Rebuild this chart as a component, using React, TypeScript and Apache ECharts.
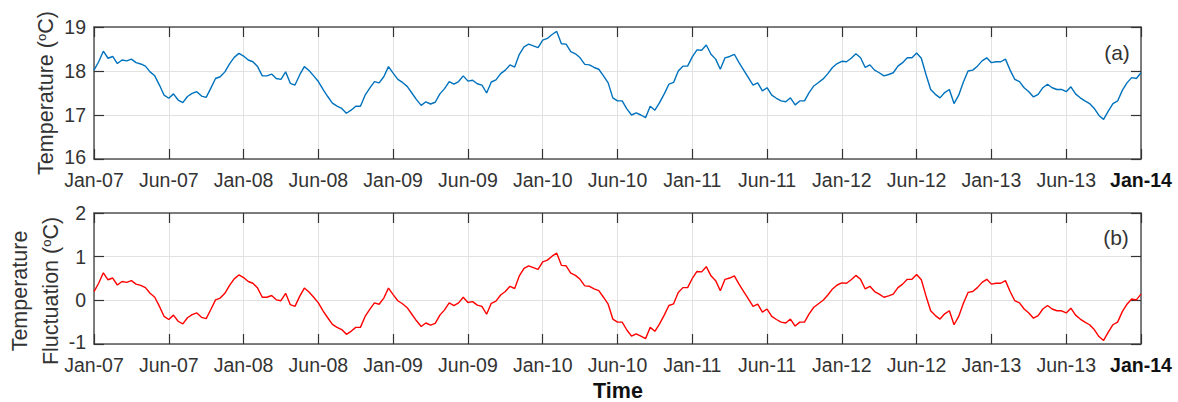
import React, { useEffect, useRef } from "react";
import * as echarts from "echarts";

// Half-year tick labels along the time axis
const PERIOD_LABELS = [
  "Jan-07", "Jun-07", "Jan-08", "Jun-08", "Jan-09", "Jun-09", "Jan-10", "Jun-10",
  "Jan-11", "Jun-11", "Jan-12", "Jun-12", "Jan-13", "Jun-13", "Jan-14",
];

// Samples taken per half-year period
const SAMPLES_PER_PERIOD = 16;

// Water temperature record (°C), Jan-07 .. Jan-14
const temperatureC = [
  18.02, 18.21, 18.45, 18.29, 18.33, 18.17, 18.25, 18.23, 18.27, 18.19,
  18.16, 18.11, 17.98, 17.89, 17.68, 17.45, 17.38, 17.48, 17.34, 17.28,
  17.42, 17.49, 17.53, 17.43, 17.40, 17.61, 17.83, 17.87, 17.98, 18.16,
  18.31, 18.40, 18.34, 18.25, 18.21, 18.10, 17.89, 17.89, 17.93, 17.83,
  17.81, 17.98, 17.72, 17.68, 17.91, 18.10, 18.01, 17.89, 17.76, 17.58,
  17.42, 17.27, 17.20, 17.15, 17.04, 17.11, 17.20, 17.20, 17.45, 17.61,
  17.76, 17.73, 17.87, 18.10, 17.95, 17.81, 17.74, 17.65, 17.50, 17.35,
  17.22, 17.30, 17.25, 17.29, 17.48, 17.60, 17.76, 17.70, 17.76, 17.89,
  17.77, 17.79, 17.71, 17.68, 17.50, 17.75, 17.80, 17.94, 18.02, 18.14,
  18.09, 18.38, 18.55, 18.61, 18.57, 18.53, 18.70, 18.74, 18.83, 18.90,
  18.62, 18.61, 18.44, 18.39, 18.30, 18.15, 18.14, 18.08, 18.04, 17.89,
  17.73, 17.39, 17.32, 17.32, 17.14, 17.00, 17.05, 17.00, 16.94, 17.20,
  17.11, 17.28, 17.48, 17.70, 17.74, 18.00, 18.11, 18.11, 18.32, 18.48,
  18.47, 18.59, 18.38, 18.27, 18.04, 18.30, 18.33, 18.38, 18.19, 18.02,
  17.85, 17.68, 17.73, 17.55, 17.62, 17.45, 17.38, 17.32, 17.30, 17.39,
  17.23, 17.32, 17.32, 17.51, 17.66, 17.74, 17.82, 17.94, 18.08, 18.17,
  18.22, 18.21, 18.29, 18.39, 18.30, 18.08, 18.14, 18.02, 17.96, 17.89,
  17.92, 17.96, 18.11, 18.19, 18.30, 18.30, 18.41, 18.29, 17.92, 17.58,
  17.47, 17.39, 17.51, 17.58, 17.26, 17.45, 17.75, 18.00, 18.02, 18.11,
  18.23, 18.30, 18.19, 18.21, 18.21, 18.27, 18.02, 17.81, 17.76, 17.62,
  17.53, 17.41, 17.47, 17.62, 17.70, 17.62, 17.58, 17.58, 17.53, 17.64,
  17.48, 17.39, 17.32, 17.26, 17.15, 16.99, 16.90, 17.09, 17.26, 17.32,
  17.56, 17.73, 17.85, 17.83, 17.96,
];

// Fluctuation = temperature minus its long-term mean
const meanTemperature = temperatureC.reduce((s, v) => s + v, 0) / temperatureC.length;
const fluctuationC = temperatureC.map((v) => +(v - meanTemperature).toFixed(3));

const FONT = "'Liberation Sans', Arial, Helvetica, sans-serif";
const LABEL_COLOR = "#333";
const BOX_COLOR = "#555";
const GRID_COLOR = "#e2e2e2";

const toSeries = (values: number[]) => values.map((v, i) => [i / SAMPLES_PER_PERIOD, v]);

function timeAxes(gridIndex: number) {
  const lastIdx = PERIOD_LABELS.length - 1;
  const common = {
    gridIndex,
    type: "value" as const,
    min: 0,
    max: lastIdx,
    interval: 1,
    axisLine: { show: true, onZero: false, lineStyle: { color: BOX_COLOR, width: 1.5 } },
    axisTick: { show: true, inside: true, length: 10, lineStyle: { color: "#333", width: 1.2 } },
  };
  return [
    {
      ...common,
      position: "bottom",
      axisLabel: {
        show: true,
        margin: 13,
        fontSize: 19.5,
        lineHeight: 16,
        fontFamily: FONT,
        color: LABEL_COLOR,
        formatter: (v: number) => {
          const idx = Math.round(v);
          const s = PERIOD_LABELS[idx] ?? "";
          return idx === lastIdx ? `{b|${s}}` : s;
        },
        rich: {
          b: { fontSize: 19.5, lineHeight: 16, fontFamily: FONT, fontWeight: "bold", color: "#111" },
        },
      },
      splitLine: { show: true, lineStyle: { color: GRID_COLOR, width: 1 } },
    },
    {
      ...common,
      position: "top",
      axisLabel: { show: false },
      splitLine: { show: false },
    },
  ];
}

function valueAxes(gridIndex: number, min: number, max: number) {
  const common = {
    gridIndex,
    type: "value" as const,
    min,
    max,
    interval: 1,
    axisLine: { show: true, onZero: false, lineStyle: { color: BOX_COLOR, width: 1.5 } },
    axisTick: { show: true, inside: true, length: 10, lineStyle: { color: "#333", width: 1.2 } },
  };
  return [
    {
      ...common,
      position: "left",
      axisLabel: {
        show: true,
        margin: 8,
        fontSize: 19.5,
        lineHeight: 16,
        fontFamily: FONT,
        color: LABEL_COLOR,
        // the lowest label sits a little higher, clear of the time labels
        formatter: (v: number) => (v === min ? `{lo|${v}}` : `${v}`),
        rich: {
          lo: { fontSize: 19.5, lineHeight: 16, fontFamily: FONT, color: LABEL_COLOR, padding: [0, 0, 4, 0] },
        },
      },
      splitLine: { show: true, lineStyle: { color: GRID_COLOR, width: 1 } },
    },
    {
      ...common,
      position: "right",
      axisLabel: { show: false },
      splitLine: { show: false },
    },
  ];
}

const nameRich = {
  n: { fontSize: 21.5, fontFamily: FONT, fill: LABEL_COLOR },
  s: { fontSize: 13, fontFamily: FONT, fill: LABEL_COLOR, verticalAlign: "top" },
};

export default function App() {
  const ref = useRef<HTMLDivElement>(null);

  useEffect(() => {
    if (!ref.current) return;
    const chart = echarts.init(ref.current, undefined, { renderer: "svg" });
    chart.setOption({
      animation: false,
      backgroundColor: "#fff",
      grid: [
        { left: 94, top: 27, width: 1047, height: 132 },
        { left: 94, top: 213, width: 1047, height: 131 },
      ],
      xAxis: [...timeAxes(0), ...timeAxes(1)],
      yAxis: [...valueAxes(0, 16, 19), ...valueAxes(1, -1, 2)],
      series: [
        {
          type: "line",
          name: "Temperature",
          xAxisIndex: 0,
          yAxisIndex: 0,
          data: toSeries(temperatureC),
          showSymbol: false,
          lineStyle: { color: "#0072BD", width: 1.4 },
          itemStyle: { color: "#0072BD" },
        },
        {
          type: "line",
          name: "Temperature Fluctuation",
          xAxisIndex: 2,
          yAxisIndex: 2,
          data: toSeries(fluctuationC),
          showSymbol: false,
          lineStyle: { color: "#FF0000", width: 1.4 },
          itemStyle: { color: "#FF0000" },
        },
      ],
      graphic: [
        {
          type: "text",
          x: 46,
          y: 93,
          rotation: Math.PI / 2,
          style: {
            text: "{n|Temperature (}{s|o}{n|C)}",
            rich: nameRich,
            align: "center",
            verticalAlign: "middle",
          },
        },
        {
          type: "text",
          x: 20,
          y: 291,
          rotation: Math.PI / 2,
          style: {
            text: "Temperature",
            font: `21.5px ${FONT}`,
            fill: LABEL_COLOR,
            align: "center",
            verticalAlign: "middle",
          },
        },
        {
          type: "text",
          x: 51,
          y: 291,
          rotation: Math.PI / 2,
          style: {
            text: "{n|Fluctuation (}{s|o}{n|C)}",
            rich: nameRich,
            align: "center",
            verticalAlign: "middle",
          },
        },
        {
          type: "text",
          x: 618,
          y: 391,
          style: {
            text: "Time",
            font: `bold 21.5px ${FONT}`,
            fill: "#111",
            align: "center",
            verticalAlign: "middle",
          },
        },
        {
          type: "text",
          x: 1117,
          y: 52,
          style: {
            text: "(a)",
            font: `21px ${FONT}`,
            fill: LABEL_COLOR,
            align: "center",
            verticalAlign: "middle",
          },
        },
        {
          type: "text",
          x: 1116,
          y: 237,
          style: {
            text: "(b)",
            font: `21px ${FONT}`,
            fill: LABEL_COLOR,
            align: "center",
            verticalAlign: "middle",
          },
        },
      ],
    });
    return () => chart.dispose();
  }, []);

  return (
    <div
      ref={ref}
      style={{ position: "absolute", left: 0, top: 0, width: 1178, height: 402 }}
    />
  );
}
